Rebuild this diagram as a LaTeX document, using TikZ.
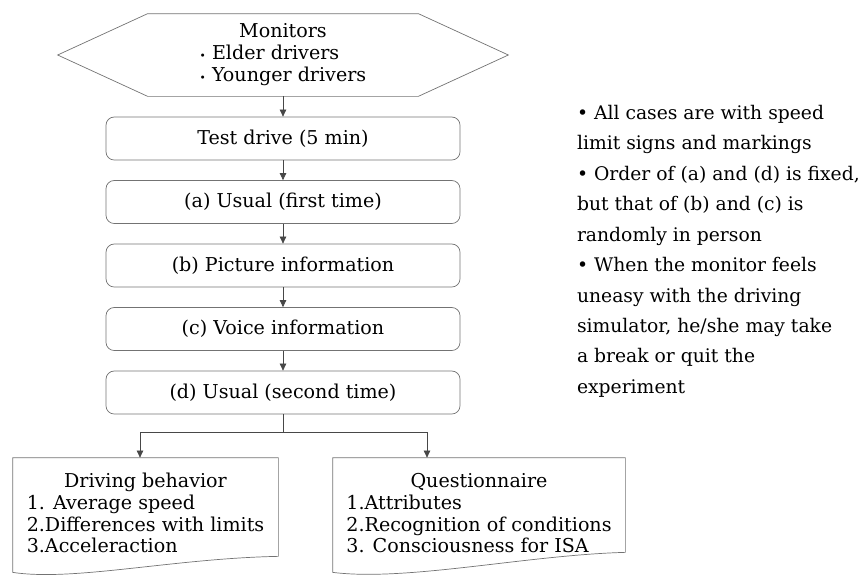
\documentclass[tikz,border=0pt]{standalone}
\usepackage{fontspec}
\setmainfont{DejaVu Serif}
\usetikzlibrary{arrows.meta}

\begin{document}
\begin{tikzpicture}
	[->,>={Triangle[length=6pt,width=5.5pt]},node distance=1.905cm,line width=0.6pt,color=black!72,
		base node/.style={text=black,font=\fontsize{16.3}{18.5}\selectfont},
		step node/.style={base node,rectangle,rounded corners=7pt,draw=black!55,minimum width=10.62cm,minimum height=1.29cm},
		monitor node/.style={base node,rectangle,minimum width=8.1cm,minimum height=2.46cm,inner sep=0pt},
		doc node/.style={base node,rectangle,minimum height=3.48cm,inner sep=0pt},
		note node/.style={text=black,align=left,anchor=north west,inner sep=0pt,font=\fontsize{16}{26}\selectfont}]

	\useasboundingbox (0,0) rectangle (25.92,-17.28);

	\node[monitor node] (mon) at (8.49,-1.65) {\raisebox{0.2cm}{\begin{tabular}{@{}l@{}}\multicolumn{1}{@{}c@{}}{Monitors}\\{\small•} Elder drivers\\{\small•} Younger drivers\end{tabular}}};
	\node[step node]  [below of=mon, node distance=2.505cm]  (test)  {Test drive (5 min)};
	\node[step node]  [below of=test]  (ua)  {(a) Usual (first time)};
	\node[step node]  [below of=ua]    (pb)  {(b) Picture information};
	\node[step node]  [below of=pb]    (vc)  {(c) Voice information};
	\node[step node]  [below of=vc]    (ud)  {(d) Usual (second time)};

	\node[doc node, minimum width=7.95cm] (drive) at (4.365,-15.48) {\begin{tabular}{@{}l@{}}\multicolumn{1}{@{}c@{}}{Driving behavior}\\1. Average speed\\2.Differences with limits\\3.Acceleraction\end{tabular}};
	\node[doc node, minimum width=8.76cm] (quest) at (14.37,-15.48) {\begin{tabular}{@{}l@{}}\multicolumn{1}{@{}c@{}}{Questionnaire}\\1.Attributes\\2.Recognition of conditions\\3. Consciousness for ISA\end{tabular}};

	\node[note node] (notes) at (17.3,-3.14) {• All cases are with speed\\limit signs and markings\\• Order of (a) and (d) is fixed,\\but that of (b) and (c) is\\randomly in person\\• When the monitor feels\\uneasy with the driving\\simulator, he/she may take\\a break or quit the\\experiment};

	% hexagon round the monitors
	\draw[-,draw=black!55] (mon.north west) -- (mon.north east) -- ([xshift=2.7cm]mon.east) -- (mon.south east)
		-- (mon.south west) -- ([xshift=-2.7cm]mon.west) -- cycle;

	% wavy bottoms of the two documents
	\draw[-,draw=black!55] (drive.north west) -- (drive.north east) -- ([yshift=0.54cm]drive.south east)
		.. controls (5.2,-16.75) and (2.2,-17.45) .. ([yshift=0.06cm]drive.south west) -- cycle;
	\draw[-,draw=black!55] (quest.north west) -- (quest.north east) -- ([yshift=0.66cm]quest.south east)
		.. controls (15.8,-16.65) and (12.2,-17.45) .. ([yshift=0.06cm]quest.south west) -- cycle;

	\path[]
	(mon)  edge  (test)
	(test) edge  (ua)
	(ua)   edge  (pb)
	(pb)   edge  (vc)
	(vc)   edge  (ud)
	;

	\coordinate (split) at (8.49,-12.96);
	\draw[-] (ud) -- (split);
	\draw (split) -| ([xshift=-0.165cm]drive.north);
	\draw (split) -| ([xshift=-1.56cm]quest.north);

\end{tikzpicture}
\end{document}
